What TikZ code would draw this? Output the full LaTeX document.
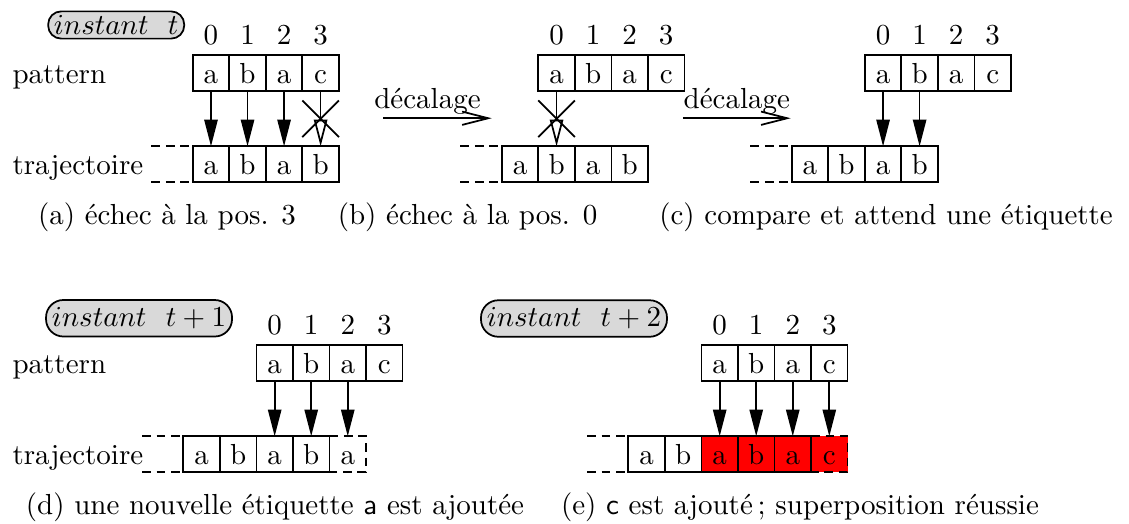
\documentclass[tikz,border=0pt]{standalone}
\usepackage{fontspec}
\usepackage{tikz}
\usetikzlibrary{positioning,arrows.meta,calc}
\definecolor{colorpill} {RGB}{217,217,217}
\definecolor{colormatch}{RGB}{255,  0,  0}

\begin{document}
\begin{tikzpicture}[
    line width=0.6pt,
    cell/.style={draw,minimum width=12.6pt,minimum height=12.4pt,inner sep=0pt,outer sep=0pt,text height=6.9pt,text depth=0pt},
    hit/.style={cell,fill=colormatch},
    newcell/.style={cell,draw=none},
    pill/.style={draw,fill=colorpill,rounded corners=4.5pt,inner xsep=2pt,inner ysep=1.4pt},
    rowlabel/.style={anchor=base west,inner sep=0pt},
    caption/.style={anchor=base,inner sep=0pt},
    lead/.style={dash pattern=on 3pt off 2pt},
    match/.style={-{Triangle[length=9.2pt,width=4.6pt]}},
    miss/.style={-{Triangle[open,length=9.2pt,width=4.6pt]}},
    slide/.style={-{Straight Barb[length=9pt,width=4.6pt]}},
]
    \useasboundingbox (0,0) rectangle (13.682,6.350);

    \node[pill] (instt) at (1.408,6.047) {$instant\ \ t$};

    % (a) echec a la position 3
    \node[cell] (ta0) at (2.557,4.359) {a};
    \node[cell,right=0pt of ta0] (ta1) {b};
    \node[cell,right=0pt of ta1] (ta2) {a};
    \node[cell,right=0pt of ta2] (ta3) {b};
    \node[cell,above=0.667cm of ta0,label=above:0] (pa0) {a};
    \node[cell,right=0pt of pa0,label=above:1] (pa1) {b};
    \node[cell,right=0pt of pa1,label=above:2] (pa2) {a};
    \node[cell,right=0pt of pa2,label=above:3] (pa3) {c};
    \node[rowlabel] (lpa) at (0.142,0 |- pa0.base) {pattern};
    \node[rowlabel] (lta) at (0.142,0 |- ta0.base) {trajectoire};
    \draw[lead] ([xshift=-0.5cm]ta0.north west) -- (ta0.north west);
    \draw[lead] ([xshift=-0.5cm]ta0.south west) -- (ta0.south west);
    \draw[match] (pa0) -- (ta0);
    \draw[match] (pa1) -- (ta1);
    \draw[match] (pa2) -- (ta2);
    \draw[miss]  (pa3) -- (ta3);
    \coordinate (xa) at ($(pa3.south)!0.5!(ta3.north)$);
    \draw ($(xa)+(-0.222,-0.222)$) -- ($(xa)+(0.222,0.222)$);
    \draw ($(xa)+(-0.222,0.222)$) -- ($(xa)+(0.222,-0.222)$);
    \node[caption] (capa) at (2.024,3.630) {(a) échec à la pos. 3};

    % (b) echec a la position 0
    \coordinate (sb0) at (4.642,4.917);
    \coordinate (sb1) at (5.959,4.917);
    \draw[slide] (sb0) -- (sb1) node[midway,above,inner sep=1pt,xshift=-3.4pt] (decb) {décalage};
    \node[cell] (tb0) at (6.302,4.359) {a};
    \node[cell,right=0pt of tb0] (tb1) {b};
    \node[cell,right=0pt of tb1] (tb2) {a};
    \node[cell,right=0pt of tb2] (tb3) {b};
    \node[cell,above=0.667cm of tb1,label=above:0] (pb0) {a};
    \node[cell,right=0pt of pb0,label=above:1] (pb1) {b};
    \node[cell,right=0pt of pb1,label=above:2] (pb2) {a};
    \node[cell,right=0pt of pb2,label=above:3] (pb3) {c};
    \draw[lead] ([xshift=-0.5cm]tb0.north west) -- (tb0.north west);
    \draw[lead] ([xshift=-0.5cm]tb0.south west) -- (tb0.south west);
    \draw[miss] (pb0) -- (tb1);
    \coordinate (xb) at ($(pb0.south)!0.5!(tb1.north)$);
    \draw ($(xb)+(-0.222,-0.222)$) -- ($(xb)+(0.222,0.222)$);
    \draw ($(xb)+(-0.222,0.222)$) -- ($(xb)+(0.222,-0.222)$);
    \node[caption] (capb) at (5.666,3.630) {(b) échec à la pos. 0};

    % (c) compare et attend
    \coordinate (sc0) at (8.277,4.917);
    \coordinate (sc1) at (9.582,4.917);
    \draw[slide] (sc0) -- (sc1) node[midway,above,inner sep=1pt] (decc) {décalage};
    \node[cell] (tc0) at (9.816,4.359) {a};
    \node[cell,right=0pt of tc0] (tc1) {b};
    \node[cell,right=0pt of tc1] (tc2) {a};
    \node[cell,right=0pt of tc2] (tc3) {b};
    \node[cell,above=0.667cm of tc2,label=above:0] (pc0) {a};
    \node[cell,right=0pt of pc0,label=above:1] (pc1) {b};
    \node[cell,right=0pt of pc1,label=above:2] (pc2) {a};
    \node[cell,right=0pt of pc2,label=above:3] (pc3) {c};
    \draw[lead] ([xshift=-0.5cm]tc0.north west) -- (tc0.north west);
    \draw[lead] ([xshift=-0.5cm]tc0.south west) -- (tc0.south west);
    \draw[match] (pc0) -- (tc2);
    \draw[match] (pc1) -- (tc3);
    \node[caption] (capc) at (10.738,3.630) {(c) compare et attend une étiquette};

    % (d) instant t+1
    \node[pill,minimum height=12.6pt,rounded corners=6pt] (insttu) at (1.685,2.493) {$instant\ \ t+1$};
    \node[cell] (td0) at (2.443,0.845) {a};
    \node[cell,right=0pt of td0] (td1) {b};
    \node[cell,right=0pt of td1] (td2) {a};
    \node[cell,right=0pt of td2] (td3) {b};
    \node[newcell,right=0pt of td3] (td4) {a};
    \node[cell,above=0.667cm of td2,label=above:0] (pd0) {a};
    \node[cell,right=0pt of pd0,label=above:1] (pd1) {b};
    \node[cell,right=0pt of pd1,label=above:2] (pd2) {a};
    \node[cell,right=0pt of pd2,label=above:3] (pd3) {c};
    \node[rowlabel] (lpd) at (0.142,0 |- pd0.base) {pattern};
    \node[rowlabel] (ltd) at (0.142,0 |- td0.base) {trajectoire};
    \draw[lead] ([xshift=-0.5cm]td0.north west) -- (td0.north west);
    \draw[lead] ([xshift=-0.5cm]td0.south west) -- (td0.south west);
    \draw[lead] (td4.north west) -- (td4.north east) -- (td4.south east) -- (td4.south west);
    \draw[match] (pd0) -- (td2);
    \draw[match] (pd1) -- (td3);
    \draw[match] (pd2) -- (td4);
    \node[caption] (capd) at (3.333,0.115) {(d) une nouvelle étiquette \textsf{a} est ajoutée};

    % (e) instant t+2
    \node[pill,minimum height=12.6pt,rounded corners=6pt] (insttd) at (6.956,2.490) {$instant\ \ t+2$};
    \node[cell] (te0) at (7.836,0.845) {a};
    \node[cell,right=0pt of te0] (te1) {b};
    \node[hit,right=0pt of te1] (te2) {a};
    \node[hit,right=0pt of te2] (te3) {b};
    \node[hit,right=0pt of te3] (te4) {a};
    \node[newcell,fill=colormatch,right=0pt of te4] (te5) {c};
    \node[cell,above=0.667cm of te2,label=above:0] (pe0) {a};
    \node[cell,right=0pt of pe0,label=above:1] (pe1) {b};
    \node[cell,right=0pt of pe1,label=above:2] (pe2) {a};
    \node[cell,right=0pt of pe2,label=above:3] (pe3) {c};
    \draw[lead] ([xshift=-0.5cm]te0.north west) -- (te0.north west);
    \draw[lead] ([xshift=-0.5cm]te0.south west) -- (te0.south west);
    \draw (te5.north west) -- (te5.south west);
    \draw[lead] (te5.north west) -- (te5.north east) -- (te5.south east) -- (te5.south west);
    \draw[match] (pe0) -- (te2);
    \draw[match] (pe1) -- (te3);
    \draw[match] (pe2) -- (te4);
    \draw[match] (pe3) -- (te5);
    \node[caption] (cape) at (9.695,0.115) {(e) \textsf{c} est ajouté\,; superposition réussie};

\end{tikzpicture}
\end{document}
